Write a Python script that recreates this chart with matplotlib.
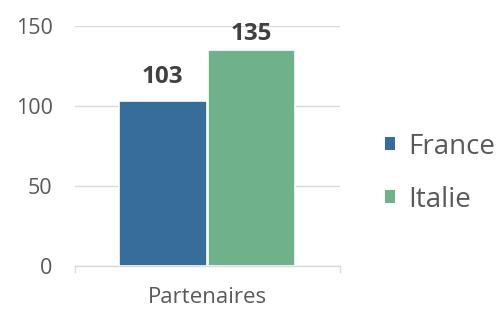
import matplotlib
matplotlib.use("Agg")
import matplotlib.pyplot as plt
import numpy as np
from matplotlib.patches import Patch

plt.rcParams['font.family'] = ['Open Sans', 'DejaVu Sans']

category = "Partenaires"
series = ["France", "Italie"]
values = [103, 135]
colors = ["#376d9b", "#6fb18a"]
yticks = [0, 50, 100, 150]

fig = plt.figure(figsize=(4.99, 3.09), dpi=100)
ax = fig.add_axes([0.150, 0.139, 0.531, 0.777])

width = 0.33
offsets = [-0.168, 0.166]
for v, c, off in zip(values, colors, offsets):
    ax.bar(off, v, width=width, color=c, edgecolor="white", linewidth=1.2, zorder=3)
    ax.text(off, min(v + 11.5, 141.5), f"{v}", ha="center", va="baseline",
            fontsize=17.5, fontweight="bold", color="#404040", zorder=4)

ax.set_xlim(-0.5, 0.5)
ax.set_ylim(0, 150)
ax.set_yticks(yticks)
ax.set_yticklabels([str(t) for t in yticks], fontsize=15.5, color="#595959")
ax.grid(axis="y", color="#d9d9d9", linewidth=1, zorder=0)
ax.set_xticks([0])
ax.set_xticklabels([category], fontsize=16, color="#595959")
ax.tick_params(axis="x", length=0, pad=15)
ax.tick_params(axis="y", length=0, pad=16)
for s in ["top", "right", "left"]:
    ax.spines[s].set_visible(False)
ax.spines["bottom"].set_color("#d9d9d9")
ax.spines["bottom"].set_linewidth(1)
for xe in [-0.5, 0.5]:
    ax.plot([xe, xe], [0, -4], color="#d9d9d9", linewidth=1, clip_on=False, zorder=2)

handles = [Patch(facecolor=c, edgecolor="none") for c in colors]
fig.legend(handles, series, loc="center left", bbox_to_anchor=(0.7715, 0.440),
           frameon=False, fontsize=20, labelcolor="#595959", borderpad=0,
           borderaxespad=0,
           handlelength=0.36, handleheight=0.36, handletextpad=0.47,
           labelspacing=0.9)

fig.savefig("out.png", dpi=100)
